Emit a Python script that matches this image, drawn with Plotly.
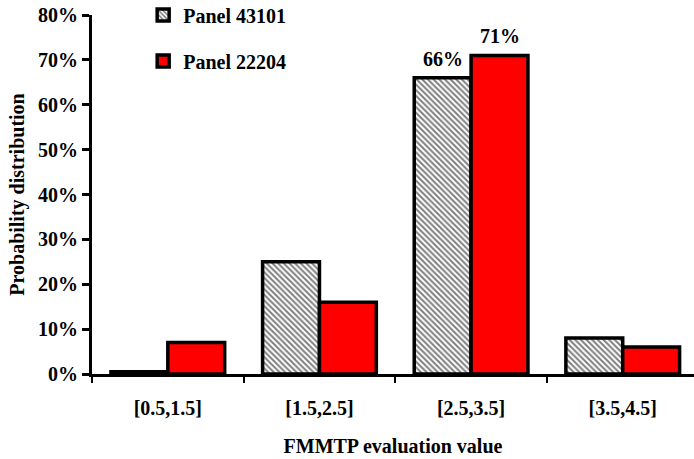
import plotly.graph_objects as go

categories = ["[0.5,1.5]", "[1.5,2.5]", "[2.5,3.5]", "[3.5,4.5]"]
panel_43101 = [0.5, 25, 66, 8]
panel_22204 = [7, 16, 71, 6]
labels_43101 = ["", "", "66%", ""]
labels_22204 = ["", "", "71%", ""]
y_ticks = [0, 10, 20, 30, 40, 50, 60, 70, 80]
y_tick_text = ["0%", "10%", "20%", "30%", "40%", "50%", "60%", "70%", "80%"]

FONT = "Liberation Serif"
BARGAP = 0.25
X_RANGE = [-0.5, 3.47]
PLOT_W = 694 - 92

fig = go.Figure()
fig.add_trace(go.Bar(
    x=categories, y=panel_43101, name="Panel 43101",
    legendgroup="a",
    marker=dict(color="white",
                pattern=dict(shape="\\", fgcolor="black", bgcolor="white", size=4, solidity=0.5),
                line=dict(color="black", width=3.5)),
))
fig.add_trace(go.Bar(
    x=categories, y=panel_22204, name="Panel 22204",
    legendgroup="b",
    marker=dict(color="#FF0000", line=dict(color="black", width=3.5)),
))

# value labels placed over the centre of each grouped bar
cat_px = PLOT_W / (X_RANGE[1] - X_RANGE[0])
bar_px = cat_px * (1 - BARGAP) / 2
for offset, vals, labs in [(-bar_px / 2, panel_43101, labels_43101),
                           (bar_px / 2, panel_22204, labels_22204)]:
    for c, v, t in zip(categories, vals, labs):
        if t:
            fig.add_annotation(x=c, y=v, text=t, showarrow=False,
                               xshift=offset, yshift=6, yanchor="bottom",
                               font=dict(family=FONT, size=20, color="black", weight="bold"))

fig.update_layout(
    width=694, height=459,
    margin=dict(l=92, r=0, t=15, b=85, autoexpand=False),
    paper_bgcolor="white", plot_bgcolor="white",
    barmode="group", bargap=BARGAP, bargroupgap=0,
    font=dict(family=FONT, size=19, color="black", weight="bold"),
    showlegend=True,
    legend=dict(x=0.085, y=1.054, xanchor="left", yanchor="top",
                traceorder="grouped", tracegroupgap=17,
                font=dict(family=FONT, size=20, color="black", weight="bold"),
                bgcolor="rgba(0,0,0,0)"),
    xaxis=dict(
        range=X_RANGE, showline=True, linecolor="black", linewidth=3,
        ticks="outside", tickson="boundaries", ticklen=6, tickwidth=2, tickcolor="black",
        ticklabelstandoff=14,
        tickfont=dict(family=FONT, size=20, color="black", weight="bold"),
        showgrid=False, zeroline=False,
        title=dict(text="FMMTP evaluation value", standoff=21,
                   font=dict(family=FONT, size=20, color="black", weight="bold")),
    ),
    yaxis=dict(
        range=[0, 80], tickmode="array", tickvals=y_ticks, ticktext=y_tick_text,
        showline=True, linecolor="black", linewidth=3,
        ticks="outside", ticklen=7, tickwidth=2.5, tickcolor="black",
        tickfont=dict(family=FONT, size=20, color="black", weight="bold"),
        showgrid=False, zeroline=False,
        title=dict(text="Probability distribution", standoff=9,
                   font=dict(family=FONT, size=20, color="black", weight="bold")),
    ),
)

fig.write_html("out.html", config={"displayModeBar": False},
               post_script="document.body.style.margin='0';")
